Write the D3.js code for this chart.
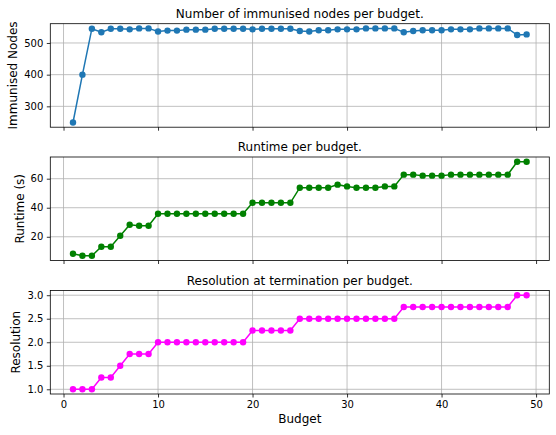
<!DOCTYPE html>
<html>
<head>
<meta charset="utf-8">
<script src="https://cdn.jsdelivr.net/npm/d3@7"></script>
<style>
  body { margin: 0; background: #fff; }
  svg { display: block; font-family: 'DejaVu Sans', sans-serif; }
</style>
</head>
<body>
<div id="chart"></div>
<script>
// budgets on the shared x axis
const budgets = [1, 2, 3, 4, 5, 6, 7, 8, 9, 10, 11, 12, 13, 14, 15, 16, 17, 18, 19, 20,
  21, 22, 23, 24, 25, 26, 27, 28, 29, 30, 31, 32, 33, 34, 35, 36, 37, 38, 39, 40,
  41, 42, 43, 44, 45, 46, 47, 48, 49];

// immunised nodes per budget
const immunised = [249, 400, 545, 534, 545, 545, 543, 546, 546, 536, 539, 539, 542, 542, 542,
  545, 545, 545, 545, 543, 545, 545, 545, 545, 538, 536, 540, 540, 543, 543, 543, 546, 546,
  546, 546, 534, 538, 540, 540, 540, 543, 543, 543, 546, 546, 546, 546, 525, 527];

// runtime (s) per budget
const runtime = [8.3, 6.9, 6.9, 13.1, 13.1, 20.7, 28.3, 27.6, 27.6,
  35.9, 35.9, 35.9, 35.9, 35.9, 35.9, 35.9, 35.9, 35.9, 35.9,
  43.4, 43.4, 43.4, 43.4, 43.4,
  53.8, 53.8, 53.8, 53.8, 55.9, 54.7, 53.8, 53.8, 53.8, 54.7, 54.7,
  62.8, 62.8, 62.1, 62.1, 62.1, 62.8, 62.8, 62.8, 62.8, 62.8, 62.8, 62.8,
  71.7, 71.7];

// resolution at termination per budget
const resolution = [1, 1, 1, 1.25, 1.25, 1.5, 1.75, 1.75, 1.75,
  2, 2, 2, 2, 2, 2, 2, 2, 2, 2,
  2.25, 2.25, 2.25, 2.25, 2.25,
  2.5, 2.5, 2.5, 2.5, 2.5, 2.5, 2.5, 2.5, 2.5, 2.5, 2.5,
  2.75, 2.75, 2.75, 2.75, 2.75, 2.75, 2.75, 2.75, 2.75, 2.75, 2.75, 2.75,
  3, 3];

// tick labels
const xTicks = [0, 10, 20, 30, 40, 50];
const immunisedTicks = [300, 400, 500];
const runtimeTicks = [20, 40, 60];
const resolutionTicks = [1.0, 1.5, 2.0, 2.5, 3.0];

const titles = ['Number of immunised nodes per budget.', 'Runtime per budget.',
  'Resolution at termination per budget.'];
const yLabels = ['Immunised Nodes', 'Runtime (s)', 'Resolution'];

const W = 556, H = 435;
const left = 50.3, right = 549.3;
const panelTops = [23.7, 157, 290.5];
const panelH = 103.5;

const panels = [
  { values: immunised, ticks: immunisedTicks, fmt: d3.format('d'), color: '#1f77b4' },
  { values: runtime, ticks: runtimeTicks, fmt: d3.format('d'), color: '#008000' },
  { values: resolution, ticks: resolutionTicks, fmt: d3.format('.1f'), color: '#ff00ff' }
];

const svg = d3.select('#chart').append('svg')
  .attr('width', W)
  .attr('height', H);

// matplotlib-like 5% margins
function padded(ext) {
  const m = (ext[1] - ext[0]) * 0.05;
  return [ext[0] - m, ext[1] + m];
}

const x = d3.scaleLinear()
  .domain(padded(d3.extent(budgets)))
  .range([left, right]);

panels.forEach((p, i) => {
  const top = panelTops[i];
  const bottom = top + panelH;
  const y = d3.scaleLinear()
    .domain(padded(d3.extent(p.values)))
    .range([bottom, top]);

  const g = svg.append('g');

  // grid
  g.append('g').selectAll('line')
    .data(xTicks)
    .join('line')
    .attr('x1', d => x(d)).attr('x2', d => x(d))
    .attr('y1', top).attr('y2', bottom)
    .attr('stroke', '#b0b0b0')
    .attr('stroke-width', 0.8);
  g.append('g').selectAll('line')
    .data(p.ticks)
    .join('line')
    .attr('x1', left).attr('x2', right)
    .attr('y1', d => y(d)).attr('y2', d => y(d))
    .attr('stroke', '#b0b0b0')
    .attr('stroke-width', 0.8);

  // x axis (labels only on the bottom panel)
  const xAxis = d3.axisBottom(x)
    .tickValues(xTicks)
    .tickSize(3.5)
    .tickPadding(3.5)
    .tickFormat(i === 2 ? d3.format('d') : () => '');
  const xg = g.append('g')
    .attr('transform', `translate(0,${bottom})`)
    .call(xAxis);

  // y axis
  const yAxis = d3.axisLeft(y)
    .tickValues(p.ticks)
    .tickSize(3.5)
    .tickPadding(3.5)
    .tickFormat(p.fmt);
  const yg = g.append('g')
    .attr('transform', `translate(${left},0)`)
    .call(yAxis);

  [xg, yg].forEach(ax => {
    ax.select('.domain').remove();
    ax.selectAll('line').attr('stroke', '#000').attr('stroke-width', 0.8);
    ax.selectAll('text')
      .attr('fill', '#000')
      .style('font-size', '10px')
      .style('font-family', "'DejaVu Sans', sans-serif");
  });

  // line and markers
  const line = d3.line()
    .x((d, j) => x(budgets[j]))
    .y(d => y(d));
  g.append('path')
    .datum(p.values)
    .attr('fill', 'none')
    .attr('stroke', p.color)
    .attr('stroke-width', 1.5)
    .attr('d', line);
  g.append('g').selectAll('circle')
    .data(p.values)
    .join('circle')
    .attr('cx', (d, j) => x(budgets[j]))
    .attr('cy', d => y(d))
    .attr('r', 3.2)
    .attr('fill', p.color);

  // frame
  g.append('rect')
    .attr('x', left).attr('y', top)
    .attr('width', right - left).attr('height', panelH)
    .attr('fill', 'none')
    .attr('stroke', '#000')
    .attr('stroke-width', 0.8);

  // title
  g.append('text')
    .attr('x', (left + right) / 2)
    .attr('y', top - 5.6)
    .attr('text-anchor', 'middle')
    .style('font-size', '12px')
    .text(titles[i]);

  // y label, placed left of the tick labels (bbox is in the axis group's own space)
  const tb = yg.node().getBBox();
  const lx = left + tb.x - 7;
  const ly = (top + bottom) / 2;
  g.append('text')
    .attr('transform', `translate(${lx},${ly}) rotate(-90)`)
    .attr('text-anchor', 'middle')
    .style('font-size', '12px')
    .text(yLabels[i]);
});

// x label
svg.append('text')
  .attr('x', (left + right) / 2)
  .attr('y', 423)
  .attr('text-anchor', 'middle')
  .style('font-size', '12px')
  .text('Budget');
</script>
</body>
</html>
